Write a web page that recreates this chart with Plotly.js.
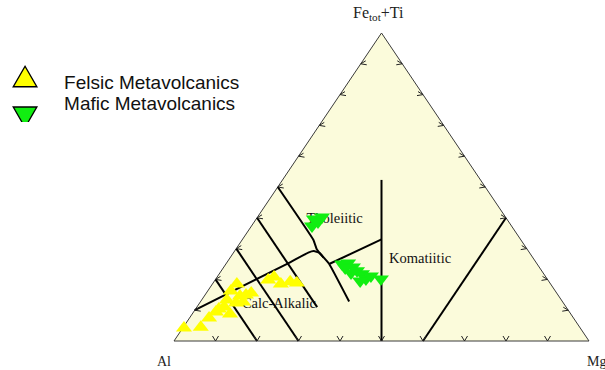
<!DOCTYPE html>
<html>
<head>
<meta charset="utf-8">
<script src="https://cdn.plot.ly/plotly-3.0.1.min.js"></script>
<style>
  html, body { margin: 0; padding: 0; background: #ffffff; }
  #plot { width: 605px; height: 370px; }
</style>
</head>
<body>
<div id="plot"></div>
<script>
// Jensen cation plot, Al - (Fe_tot+Ti) - Mg (cation %)

// ---- samples: [Al, Fe+Ti, Mg] ----
const felsicAl   = [95.5, 91.3, 87.8, 85.2, 82.4, 82.1, 78.9, 76.8, 75.2, 73.6, 75.6, 78.2, 80.6, 67.4, 65.5, 65.0, 62.4, 61.0, 84.0, 77.0];
const felsicFeTi = [ 4.2,  4.5,  7.5,  9.4, 11.0,  8.8, 12.3, 14.6, 14.9, 15.6, 18.5, 16.2, 13.3, 19.8, 20.8, 18.5, 19.2, 18.8, 10.4, 12.7];
const felsicMg   = [ 0.3,  4.2,  4.7,  5.4,  6.6,  9.1,  8.8,  8.6,  9.9, 10.8,  5.9,  5.6,  6.1, 12.8, 13.7, 16.5, 18.4, 20.2,  5.6, 10.3];

const maficAl   = [46.5, 44.2, 48.1, 46.0, 47.0, 45.4, 44.9, 44.5, 43.8, 43.7, 45.4, 42.0, 40.1, 46.3, 46.9];
const maficFeTi = [39.6, 40.3, 37.3, 38.6, 25.0, 25.3, 24.0, 22.8, 21.8, 20.1, 19.5, 21.1, 20.1, 22.1, 23.7];
const maficMg   = [13.9, 15.5, 14.6, 15.4, 28.0, 29.3, 31.1, 32.7, 34.4, 36.2, 35.1, 36.9, 39.8, 31.6, 29.4];

const seriesNames = ['Felsic Metavolcanics', 'Mafic Metavolcanics'];

// ---- field boundaries, vertices as [Al, Fe+Ti, Mg] ----
const triangleEdge   = [[100, 0, 0], [0, 0, 100], [0, 100, 0], [100, 0, 0]];
const tholeiiticLine = [[50, 50, 0], [50.0, 32.8, 17.2], [50.7, 29.8, 19.5], [50.6, 28.5, 20.9], [50.4, 27.2, 22.4], [50.1, 25.0, 24.9], [51.4, 12.8, 35.8]];
const thCaLine       = [[90, 10, 0], [59.9, 25.2, 14.9], [53.3, 28.7, 18.0], [51.7, 29.2, 19.1], [50.7, 28.6, 20.7], [50.4, 27.2, 22.4]];
const komatiiteLink  = [[50.1, 25.0, 24.9], [33.5, 33.0, 33.5]];
const komatiiteLine  = [[23.85, 52.3, 23.85], [50, 0, 50]];
const al60Line       = [[60, 40, 0], [60, 11, 29]];
const al70Line       = [[70, 30, 0], [70, 0, 30]];
const al80Line       = [[80, 20, 0], [80, 0, 20]];
const mg60Line       = [[0, 40, 60], [40, 0, 60]];

const tickValues = [10, 20, 30, 40, 50, 60, 70, 80, 90];

const fieldNames   = ['Tholeiitic', 'Komatiitic', 'Calc-Alkalic'];
const fieldLabelAt = [[41.5, 39.6, 18.9], [27.4, 26.6, 46.0], [68.7, 12.0, 19.3]];

// ---- placement of the triangle in the 605x370 figure (pixels) ----
const W = 605, H = 370;
const TRI_LEFT = 174, TRI_BASE = 341, TRI_W = 415, TRI_H = 308;
const xRange = [-TRI_LEFT / TRI_W, (W - TRI_LEFT) / TRI_W];
const yRange = [-(H - TRI_BASE) / TRI_H, TRI_BASE / TRI_H];
const PX = 1 / TRI_W, PY = 1 / TRI_H;   // data units per pixel

// ternary -> plane: x = Mg + Fe/2, y = Fe (fractions)
function project(al, fe, mg) {
  const s = al + fe + mg;
  return [(mg + fe / 2) / s, fe / s];
}
function pathXY(pts) {
  const x = [], y = [];
  pts.forEach(p => { const q = project(p[0], p[1], p[2]); x.push(q[0]); y.push(q[1]); });
  return { x, y };
}
function seriesXY(al, fe, mg) {
  const x = [], y = [];
  al.forEach((a, i) => { const q = project(a, fe[i], mg[i]); x.push(q[0]); y.push(q[1]); });
  return { x, y };
}

// chevron tick marks on the three edges
function tickMarks() {
  const x = [], y = [];
  function chev(p, arm1, arm2) {
    x.push(p[0] + arm1[0] * PX, p[0], p[0] + arm2[0] * PX, null);
    y.push(p[1] - arm1[1] * PY, p[1], p[1] - arm2[1] * PY, null);
  }
  tickValues.forEach(t => {
    chev(project(100 - t, 0, t), [-3, -5], [3, -5]);      // base (Mg)
    chev(project(100 - t, t, 0), [5, -3], [6, 1]);        // left edge (Fe+Ti)
    chev(project(0, t, 100 - t), [-5, -3], [-6, 1]);      // right edge (Fe+Ti)
  });
  return { x, y };
}

const traces = [];

const tri = pathXY(triangleEdge);
traces.push({
  x: tri.x, y: tri.y, type: 'scatter', mode: 'lines', fill: 'toself',
  fillcolor: '#fbfbdb', line: { color: '#3a3a3a', width: 1 },
  hoverinfo: 'skip', showlegend: false
});

[tholeiiticLine, thCaLine, komatiiteLink, komatiiteLine, al60Line, al70Line, al80Line, mg60Line].forEach(seg => {
  const s = pathXY(seg);
  traces.push({
    x: s.x, y: s.y, type: 'scatter', mode: 'lines',
    line: { color: '#000000', width: 2, shape: 'spline', smoothing: 0.35 },
    hoverinfo: 'skip', showlegend: false
  });
});

const ticks = tickMarks();
traces.push({
  x: ticks.x, y: ticks.y, type: 'scatter', mode: 'lines',
  line: { color: '#222222', width: 1 }, hoverinfo: 'skip', showlegend: false
});

const lab = { x: [], y: [] };
fieldLabelAt.forEach(p => { const q = project(p[0], p[1], p[2]); lab.x.push(q[0]); lab.y.push(q[1]); });
traces.push({
  x: lab.x, y: lab.y, text: fieldNames, type: 'scatter', mode: 'text',
  textposition: 'middle center',
  textfont: { family: 'Liberation Serif', size: 14.5, color: '#111111' },
  hoverinfo: 'skip', showlegend: false
});

const fel = seriesXY(felsicAl, felsicFeTi, felsicMg);
traces.push({
  x: fel.x, y: fel.y, name: seriesNames[0], type: 'scatter', mode: 'markers',
  legend: 'legend',
  marker: { symbol: 'triangle-up', size: 14, color: '#ffff00', line: { width: 0 } },
  cliponaxis: false
});
const maf = seriesXY(maficAl, maficFeTi, maficMg);
traces.push({
  x: maf.x, y: maf.y, name: seriesNames[1], type: 'scatter', mode: 'markers',
  legend: 'legend2',
  marker: { symbol: 'triangle-down', size: 14, color: '#11ee11', line: { width: 0 } },
  cliponaxis: false
});

const legendFont = { family: 'Liberation Sans', size: 19, color: '#111111' };
function legendAt(textCenterY) {
  return {
    x: 0.010, y: 1 - textCenterY / H, xanchor: 'left', yanchor: 'middle',
    bgcolor: 'rgba(0,0,0,0)', itemwidth: 48, font: legendFont
  };
}

const vertexFont = { family: 'Liberation Serif', size: 14, color: '#222222' };
const layout = {
  width: W, height: H,
  margin: { l: 0, r: 0, t: 0, b: 0, autoexpand: false },
  paper_bgcolor: '#ffffff', plot_bgcolor: '#ffffff',
  xaxis: { range: xRange, visible: false, fixedrange: true },
  yaxis: { range: yRange, visible: false, fixedrange: true },
  showlegend: true,
  legend: legendAt(82),
  legend2: legendAt(103),
  annotations: [
    { x: 0.5, y: 1, text: 'Fe<sub>tot</sub>+Ti', showarrow: false, xanchor: 'center', yanchor: 'bottom', xshift: -3, yshift: 8, font: { family: 'Liberation Serif', size: 16, color: '#222222' } },
    { x: 0, y: 0, text: 'Al', showarrow: false, xanchor: 'center', yanchor: 'top', xshift: -10, yshift: -11, font: vertexFont },
    { x: 1, y: 0, text: 'Mg', showarrow: false, xanchor: 'center', yanchor: 'top', xshift: 7, yshift: -11, font: vertexFont }
  ]
};

Plotly.newPlot('plot', traces, layout, { staticPlot: true }).then(gd => {
  // larger, outlined legend glyphs
  const glyphShift = { legend: -2, legend2: 11 };
  Object.keys(glyphShift).forEach(id => {
    gd.querySelectorAll('g.' + id + ' path.scatterpts').forEach(p => {
      p.setAttribute('transform', 'translate(19,' + glyphShift[id] + ') scale(1.46,1.95)');
      p.style.stroke = '#000000';
      p.style.strokeWidth = '0.8px';
    });
  });
});
</script>
</body>
</html>
